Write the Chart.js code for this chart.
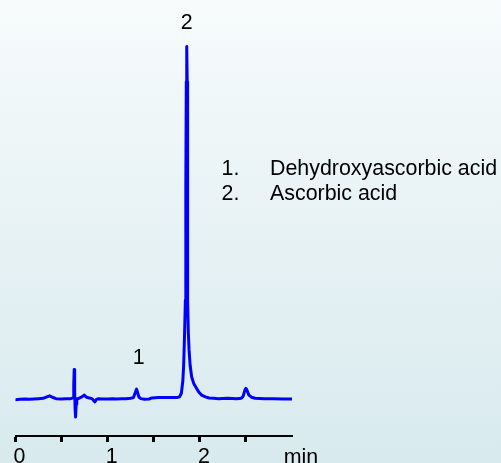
<!DOCTYPE html>
<html>
<head>
<meta charset="utf-8">
<script src="https://cdn.jsdelivr.net/npm/chart.js@4.4.0/dist/chart.umd.min.js"></script>
<style>
  html, body { margin: 0; padding: 0; overflow: hidden; background: #eef6f8; }
  #wrap { width: 501px; height: 463px; }
</style>
</head>
<body>
<div id="wrap"><canvas id="c" width="501" height="463"></canvas></div>
<script>
// Retention time (min) and detector signal (relative units)
const times = [
  0.00, 0.05, 0.10, 0.15, 0.20, 0.25, 0.30, 0.34, 0.37, 0.40, 0.44, 0.50, 0.55, 0.60,
  0.625, 0.632, 0.637, 0.642, 0.647, 0.652, 0.658, 0.665, 0.69, 0.72, 0.745, 0.77, 0.80,
  0.83, 0.85, 0.862, 0.875, 0.90, 0.95, 1.00, 1.05, 1.10, 1.15, 1.20, 1.25, 1.28, 1.30,
  1.314, 1.325, 1.34, 1.36, 1.40, 1.45, 1.48, 1.55, 1.65, 1.75, 1.78, 1.80, 1.815, 1.824,
  1.834, 1.843, 1.848, 1.853, 1.858, 1.863, 1.866, 1.869, 1.875, 1.883, 1.895, 1.911,
  1.935, 1.965, 1.99, 2.02, 2.06, 2.10, 2.15, 2.20, 2.30, 2.40, 2.45, 2.47, 2.49, 2.50,
  2.51, 2.53, 2.56, 2.60, 2.70, 2.80, 2.90, 3.00
];
const signal = [
  -0.2, -0.1, 0.0, -0.1, 0.0, 0.1, 0.2, 0.6, 0.9, 0.5, 0.1, 0.0, 0.1, 0.1,
  0.3, 4.0, 8.4, 2.0, -3.0, -5.1, -1.5, 0.0, 0.2, 0.6, 1.1, 0.5, 0.3,
  0.1, -0.5, -0.8, -0.2, 0.1, 0.0, 0.0, 0.1, 0.0, 0.1, 0.1, 0.2, 0.4, 1.8,
  2.8, 1.8, 0.5, 0.1, -0.1, 0.0, 0.3, 0.4, 0.4, 0.4, 0.6, 1.7, 5.0, 9.2,
  18, 28, 60, 90, 100, 90, 60, 28, 19, 14, 9.5, 6.3,
  4.3, 3.0, 1.9, 1.1, 0.6, 0.3, 0.2, 0.1, 0.2, 0.1, 0.2, 0.8, 2.6, 3.0,
  2.6, 1.2, 0.5, 0.2, 0.1, 0.1, 0.0, 0.0
];
// Axis ticks (min) and their labels
const tickValues = [0, 0.5, 1, 1.5, 2, 2.5];
const tickLabels = ['0', '', '1', '', '2', ''];
const axisUnit = 'min';
// Peak annotations
const peakNumbers = ['1', '2'];
const peakTimes = [1.314, 1.858];
const peakHeights = [2.8, 100];
// Compound key
const keyNumbers = ['1.', '2.'];
const compounds = ['Dehydroxyascorbic acid', 'Ascorbic acid'];

const FONT = "'Liberation Sans', Arial, sans-serif";
const FONT_SIZE = 21.4;

const points = times.map((t, i) => ({ x: t, y: signal[i] }));

const backgroundPlugin = {
  id: 'bg',
  beforeDraw(chart) {
    const { ctx, width, height } = chart;
    const g = ctx.createLinearGradient(0, 0, 0, height);
    g.addColorStop(0, '#f7fbfc');
    g.addColorStop(0.5, '#e7f2f4');
    g.addColorStop(1, '#d8eaee');
    ctx.save();
    ctx.fillStyle = g;
    ctx.fillRect(0, 0, width, height);
    ctx.restore();
  }
};

const annotationPlugin = {
  id: 'annot',
  afterDraw(chart, args, opts) {
    const { ctx } = chart;
    const xs = chart.scales.x, ys = chart.scales.y;
    ctx.save();
    ctx.fillStyle = '#000';
    ctx.font = FONT_SIZE + 'px ' + FONT;
    ctx.textBaseline = 'alphabetic';
    // peak numbers
    ctx.textAlign = 'center';
    peakNumbers.forEach((n, i) => {
      const o = opts.peakOffsets[i];
      const px = xs.getPixelForValue(peakTimes[i]) + o.dx;
      const py = ys.getPixelForValue(peakHeights[i]) - o.dy;
      ctx.fillText(n, px, py);
    });
    // axis unit
    ctx.fillText(axisUnit, xs.getPixelForValue(xs.max) + opts.unitDx, opts.unitY);
    // compound key
    ctx.textAlign = 'left';
    keyNumbers.forEach((k, i) => {
      const y = opts.keyY + i * opts.keyStep;
      ctx.fillText(k, opts.keyNumX, y);
      ctx.fillText(compounds[i], opts.keyNameX, y);
    });
    ctx.restore();
  }
};

new Chart(document.getElementById('c'), {
  type: 'line',
  data: {
    datasets: [{
      data: points,
      borderColor: '#0000ff',
      borderWidth: 3,
      pointRadius: 0,
      tension: 0,
      fill: false,
      borderJoinStyle: 'round',
      borderCapStyle: 'round'
    }]
  },
  plugins: [backgroundPlugin, annotationPlugin],
  options: {
    responsive: false,
    animation: false,
    devicePixelRatio: 1,
    layout: { padding: { left: 15.5, right: 209, top: 0, bottom: 0 } },
    plugins: {
      legend: { display: false },
      tooltip: { enabled: false },
      annot: {
        peakOffsets: [{ dx: 2, dy: 25 }, { dx: 0, dy: 18 }],
        unitDx: 9,
        unitY: 464,
        keyNumX: 221.5,
        keyNameX: 270,
        keyY: 175,
        keyStep: 25
      }
    },
    scales: {
      x: {
        type: 'linear',
        min: 0,
        max: 3,
        afterBuildTicks(scale) {
          scale.ticks = tickValues.map(v => ({ value: v }));
        },
        afterFit(scale) { scale.height = 27; },
        grid: {
          drawOnChartArea: false,
          drawTicks: true,
          tickLength: 6,
          tickWidth: 3,
          tickColor: '#000'
        },
        border: { display: true, width: 2, color: '#000' },
        ticks: {
          autoSkip: false,
          maxRotation: 0,
          padding: 2,
          labelOffset: 4,
          color: '#000',
          font: { family: FONT, size: FONT_SIZE },
          callback: (v) => {
            const i = tickValues.indexOf(v);
            return i >= 0 ? tickLabels[i] : '';
          }
        }
      },
      y: {
        type: 'linear',
        display: false,
        min: -10.5,
        max: 113.2
      }
    }
  }
});
</script>
</body>
</html>
